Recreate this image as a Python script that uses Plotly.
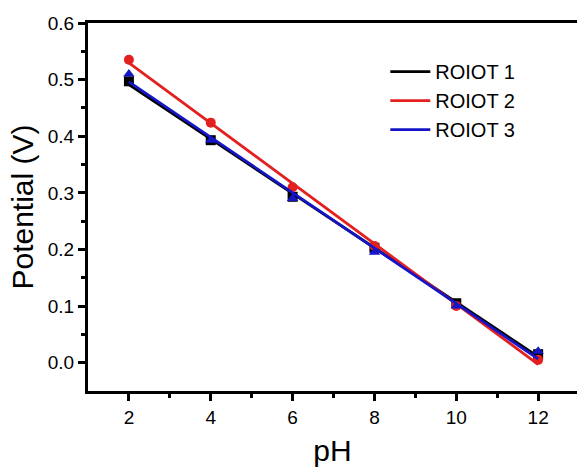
import numpy as np
import plotly.graph_objects as go

ph = [2, 4, 6, 8, 10, 12]
roiot1 = [0.497, 0.393, 0.293, 0.203, 0.105, 0.015]
roiot2 = [0.535, 0.424, 0.310, 0.206, 0.100, 0.005]
roiot3 = [0.510, 0.393, 0.290, 0.195, 0.100, 0.020]

series = [
    ("ROIOT 1", roiot1, "black", "square"),
    ("ROIOT 2", roiot2, "#e32020", "circle"),
    ("ROIOT 3", roiot3, "#1515c8", "triangle-up"),
]

fig = go.Figure()
x = np.array(ph, dtype=float)
for name, ys, color, sym in series:
    m, c = np.polyfit(x, np.array(ys), 1)
    xf = np.array([x.min(), x.max()])
    fig.add_trace(go.Scatter(x=xf, y=m * xf + c, mode="lines", name=name,
                             line=dict(color=color, width=2.8)))
    fig.add_trace(go.Scatter(x=ph, y=ys, mode="markers", showlegend=False,
                             marker=dict(color=color, symbol=sym, size=10)))

fig.update_layout(
    width=577, height=470,
    margin=dict(l=88, r=0, t=23, b=79),
    paper_bgcolor="white", plot_bgcolor="white",
    font=dict(family="Liberation Sans, Arial", color="black"),
    showlegend=True,
    legend=dict(x=0.608, y=0.921, xanchor="left", yanchor="top",
                font=dict(size=20, family="Liberation Sans, Arial"),
                bgcolor="rgba(0,0,0,0)", tracegroupgap=0, itemwidth=40),
    xaxis=dict(range=[1, 12.95], tickvals=[2, 4, 6, 8, 10, 12],
               ticks="outside", ticklen=7, tickwidth=3, tickcolor="black",
               minor=dict(tickvals=[3, 5, 7, 9, 11], ticks="outside",
                          ticklen=4, tickwidth=3, tickcolor="black"),
               showline=True, linewidth=3, linecolor="black", mirror=True,
               showgrid=False, zeroline=False, automargin=False,
               tickfont=dict(size=19),
               title=dict(text="pH", font=dict(size=30), standoff=14)),
    yaxis=dict(range=[-0.05, 0.6], tickvals=[0, 0.1, 0.2, 0.3, 0.4, 0.5, 0.6],
               ticktext=["0.0", "0.1", "0.2", "0.3", "0.4", "0.5", "0.6"],
               ticks="outside", ticklen=7, tickwidth=3, tickcolor="black",
               minor=dict(tickvals=[0.05, 0.15, 0.25, 0.35, 0.45, 0.55],
                          ticks="outside", ticklen=4, tickwidth=3, tickcolor="black"),
               showline=True, linewidth=3, linecolor="black", mirror=False,
               showgrid=False, zeroline=False, automargin=False,
               tickfont=dict(size=19),
               title=dict(text="Potential (V)", font=dict(size=30), standoff=6)),
)

fig.write_html("out.html", config={"displayModeBar": False},
               post_script="document.body.style.margin='0';document.body.style.overflow='hidden';")
